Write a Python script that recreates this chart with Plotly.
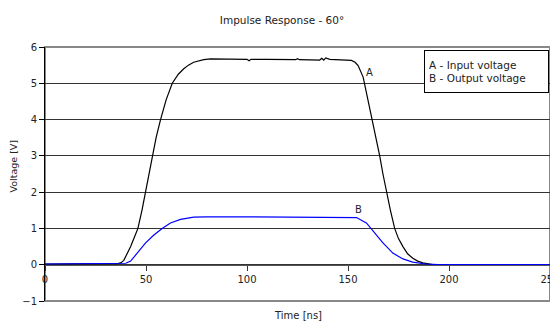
import plotly.graph_objects as go

# ---- data ----
time_a = [0, 10, 20, 30, 36, 37.5, 39, 40.5, 42.4, 44, 46, 48, 49.8, 51.5, 53.1, 55, 57.2, 60,
          63, 66, 68.7, 71, 73.6, 76, 78.6, 82, 90, 100, 101, 102, 110, 120, 124, 125, 126,
          136, 137, 138, 139, 141, 150, 151.7, 153.5, 155, 157.5, 160, 162.1, 163.9, 165.7,
          167.3, 169, 171, 173.1, 175, 177.2, 179.5, 182.1, 184.5, 187, 192, 200, 220, 250]
volt_a = [0.02, 0.03, 0.02, 0.03, 0.03, 0.05, 0.12, 0.28, 0.5, 0.72, 1.0, 1.5, 2.0, 2.5, 3.0, 3.5, 4.0, 4.55,
          5.0, 5.25, 5.4, 5.5, 5.58, 5.62, 5.65, 5.67, 5.67, 5.66, 5.62, 5.66, 5.66, 5.65, 5.65, 5.68, 5.65,
          5.64, 5.69, 5.64, 5.7, 5.66, 5.64, 5.63, 5.58, 5.49, 5.17, 4.53, 4.0, 3.5, 3.0,
          2.5, 2.0, 1.5, 1.0, 0.72, 0.5, 0.3, 0.18, 0.1, 0.05, 0.0, -0.02, -0.02, -0.02]

time_b = [0, 10, 20, 30, 37.5, 40, 42.4, 45.7, 49.8, 53.9, 58, 62.1, 67.1, 73.6, 80, 100, 120,
          140, 150, 154.2, 159.1, 163.2, 167.3, 172.2, 177.2, 182, 188.5, 195, 220, 250]
volt_b = [0.02, 0.02, 0.02, 0.02, 0.02, 0.04, 0.1, 0.32, 0.6, 0.82, 1.0, 1.15, 1.25, 1.31, 1.32, 1.32, 1.32,
          1.32, 1.32, 1.30, 1.15, 0.87, 0.6, 0.32, 0.16, 0.07, 0.02, 0.0, 0.0, 0.0]

x_ticks = [0, 50, 100, 150, 200, 250]
y_ticks = [-1, 0, 1, 2, 3, 4, 5, 6]

title_text = "Impulse Response - 60°"
x_title = "Time [ns]"
y_title = "Voltage [V]"
legend_lines = ["A - Input voltage", "B - Output voltage"]
label_a = ("A", 160.5, 5.30)
label_b = ("B", 155.3, 1.52)

FONT = "DejaVu Sans"
# the page body has an 8px margin, so the figure starts at (8, 8) in the window
FIG_W, FIG_H = 550, 314

fig = go.Figure()
fig.add_trace(go.Scatter(x=time_a, y=volt_a, mode="lines",
                         line=dict(color="#000000", width=1.2), showlegend=False))
fig.add_trace(go.Scatter(x=time_b, y=volt_b, mode="lines",
                         line=dict(color="#0000FF", width=1.2), showlegend=False))

fig.update_layout(
    template="none",
    width=FIG_W, height=FIG_H, autosize=False,
    margin=dict(l=37, r=8, t=39, b=21, pad=0),
    paper_bgcolor="white", plot_bgcolor="white",
    font=dict(family=FONT, size=10, color="#000000"),
    title=dict(text=title_text, x=274 / FIG_W, y=1 - 12 / FIG_H, xanchor="center", yanchor="middle",
               font=dict(family=FONT, size=10.5, color="#222222")),
    xaxis=dict(range=[0, 250], tickvals=x_ticks, anchor="free", position=1 / 7,
               automargin=False, ticklabeloverflow="allow",
               showline=True, linecolor="#555555", linewidth=1,
               ticks="outside", ticklen=5, tickcolor="#333333",
               showgrid=False, zeroline=False,
               tickfont=dict(family=FONT, size=10, color="#222222")),
    yaxis=dict(range=[-1, 6], tickvals=y_ticks, automargin=False, ticklabeloverflow="allow",
               showline=True, linecolor="#000000", linewidth=1,
               ticks="outside", ticklen=5, tickcolor="#000000",
               showgrid=True, gridcolor="#333333", gridwidth=1, zeroline=False,
               tickfont=dict(family=FONT, size=10, color="#222222")),
    shapes=[dict(type="rect", xref="paper", yref="paper", x0=0, x1=1, y0=0, y1=1,
                 line=dict(color="#888888", width=2), layer="below")],
)

fig.add_annotation(text=x_title, xref="paper", yref="paper", x=(297.5 - 45) / 505, y=(301 - 315) / 254,
                   xanchor="center", yanchor="middle", showarrow=False,
                   font=dict(family=FONT, size=10, color="#222222"))
fig.add_annotation(text=y_title, xref="paper", yref="paper", x=(13 - 45) / 505, y=(301 - 166.5) / 254,
                   xanchor="center", yanchor="middle", textangle=-90, showarrow=False,
                   font=dict(family=FONT, size=9.5, color="#222222"))
for lab in (label_a, label_b):
    fig.add_annotation(text=lab[0], x=lab[1], y=lab[2], xref="x", yref="y", showarrow=False,
                       font=dict(family=FONT, size=10, color="#222222"))
fig.add_annotation(text="<br>".join(legend_lines), xref="paper", yref="paper",
                   x=(424 - 45) / 505, y=(301 - 50) / 254, xanchor="left", yanchor="top",
                   width=115, height=33, align="left", valign="middle", showarrow=False,
                   bgcolor="white", bordercolor="#000000", borderwidth=1, borderpad=4,
                   font=dict(family=FONT, size=10.5, color="#222222"))

fig.write_html("out.html")
